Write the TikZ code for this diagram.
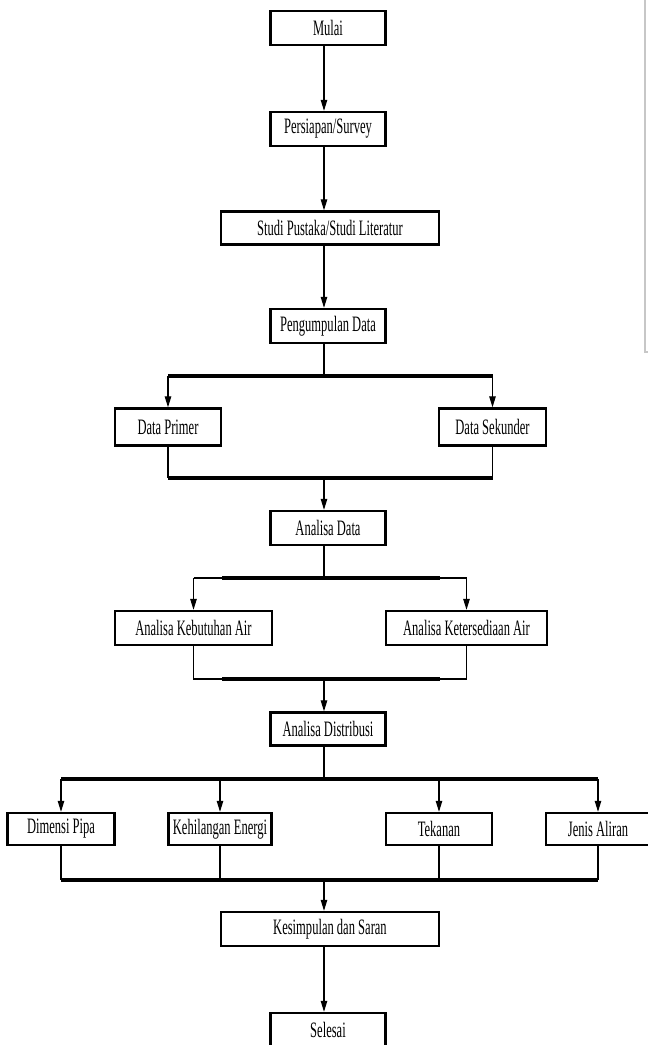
\documentclass[tikz,border=0pt]{standalone}
\usepackage{fontspec}
\setmainfont{Liberation Serif}
\newfontfamily\condfont[FakeStretch=0.57]{Liberation Serif}
\usetikzlibrary{arrows.meta}
\begin{document}
\begin{tikzpicture}[x=1pt,y=-1pt,
  box/.style={draw, line width=2.4pt, inner sep=0pt, minimum height=34pt,
    font=\condfont\fontsize{22}{24}\selectfont},
  conn/.style={line width=1.1pt},
  arr/.style={line width=1.1pt, -{Triangle[length=11pt,width=6.5pt]}},
  bus/.style={line width=3.2pt},
  artifact/.style={draw=black!22, line width=1.4pt}]
\fill[white] (0,0) rectangle (648,1045);
\useasboundingbox (0,0) rectangle (648,1045);
\coordinate (spine) at (324,0);

\node[box, minimum width=115pt] (mulai) at (328,28) {Mulai};
\node[box, minimum width=115pt] (survey) at (328,129) {Persiapan/Survey};
\node[box, minimum width=218pt, minimum height=33pt] (studi) at (330,228) {Studi Pustaka/Studi Literatur};
\node[box, minimum width=115pt] (kumpul) at (328,326) {Pengumpulan Data};
\node[box, minimum width=106pt, minimum height=37pt] (primer) at (168,427) {Data Primer};
\node[box, minimum width=107pt, minimum height=37pt] (sekunder) at (492.5,427) {Data Sekunder};
\node[box, minimum width=115pt] (analisa) at (328,528) {Analisa Data};
\node[box, minimum width=157pt] (kebutuhan) at (193.5,628) {Analisa Kebutuhan Air};
\node[box, minimum width=161pt] (sedia) at (466.5,628) {Analisa Ketersediaan Air};
\node[box, minimum width=115pt, minimum height=33pt] (distribusi) at (328,729) {Analisa Distribusi};
\node[box, minimum width=107pt, minimum height=32pt] (dimensi) at (61,829) {Dimensi Pipa};
\node[box, minimum width=103pt, minimum height=32pt] (energi) at (220,829) {Kehilangan Energi};
\node[box, minimum width=106pt, minimum height=32pt] (tekanan) at (439,829) {Tekanan};
\node[box, minimum width=104pt, minimum height=32pt] (jenis) at (598,829) {Jenis Aliran};
\node[box, minimum width=218pt] (saran) at (330,929) {Kesimpulan dan Saran};
\node[box, minimum width=115pt] (selesai) at (328,1030) {Selesai};

% spine arrows
\draw[arr] (mulai.south -| spine) -- (survey.north -| spine);
\draw[arr] (survey.south -| spine) -- (studi.north -| spine);
\draw[arr] (studi.south -| spine) -- (kumpul.north -| spine);

% first branch
\coordinate (b1) at (324,376);
\draw[conn] (kumpul.south -| spine) -- (b1);
\draw[bus] (b1 -| primer) -- (b1 -| sekunder);
\draw[arr] (b1 -| primer) -- (primer.north);
\draw[arr] (b1 -| sekunder) -- (sekunder.north);
\coordinate (j1) at (324,478);
\draw[conn] (primer.south) -- (j1 -| primer);
\draw[conn] (sekunder.south) -- (j1 -| sekunder);
\draw[bus] (j1 -| primer) -- (j1 -| sekunder);
\draw[arr] (j1) -- (analisa.north -| spine);

% second branch
\coordinate (b2) at (324,578);
\coordinate (b2l) at (222,578);
\coordinate (b2r) at (440,578);
\draw[conn] (analisa.south -| spine) -- (b2);
\draw[conn] (b2 -| kebutuhan) -- (b2 -| sedia);
\draw[bus] (b2l) -- (b2r);
\draw[arr] (b2 -| kebutuhan) -- (kebutuhan.north);
\draw[arr] (b2 -| sedia) -- (sedia.north);
\coordinate (j2) at (324,679);
\coordinate (j2l) at (222,679);
\coordinate (j2r) at (440,679);
\draw[conn] (kebutuhan.south) -- (j2 -| kebutuhan) -- (j2 -| sedia) -- (sedia.south);
\draw[bus] (j2l) -- (j2r);
\draw[arr] (j2) -- (distribusi.north -| spine);

% third branch
\coordinate (b3) at (324,779);
\draw[conn] (distribusi.south -| spine) -- (b3);
\draw[bus] (b3 -| dimensi) -- (b3 -| jenis);
\foreach \n in {dimensi,energi,tekanan,jenis}
  \draw[arr] (b3 -| \n) -- (\n.north);
\coordinate (j3) at (324,880);
\foreach \n in {dimensi,energi,tekanan,jenis}
  \draw[conn] (\n.south) -- (j3 -| \n);
\draw[bus] (j3 -| dimensi) -- (j3 -| jenis);
\draw[arr] (j3) -- (saran.north -| spine);
\draw[arr] (saran.south -| spine) -- (selesai.north -| spine);

% scan artifact on the right
\coordinate (g1) at (645,0);
\coordinate (g2) at (645,352);
\coordinate (g3) at (648,352);
\draw[artifact] (g1) -- (g2) -- (g3);
\end{tikzpicture}
\end{document}
